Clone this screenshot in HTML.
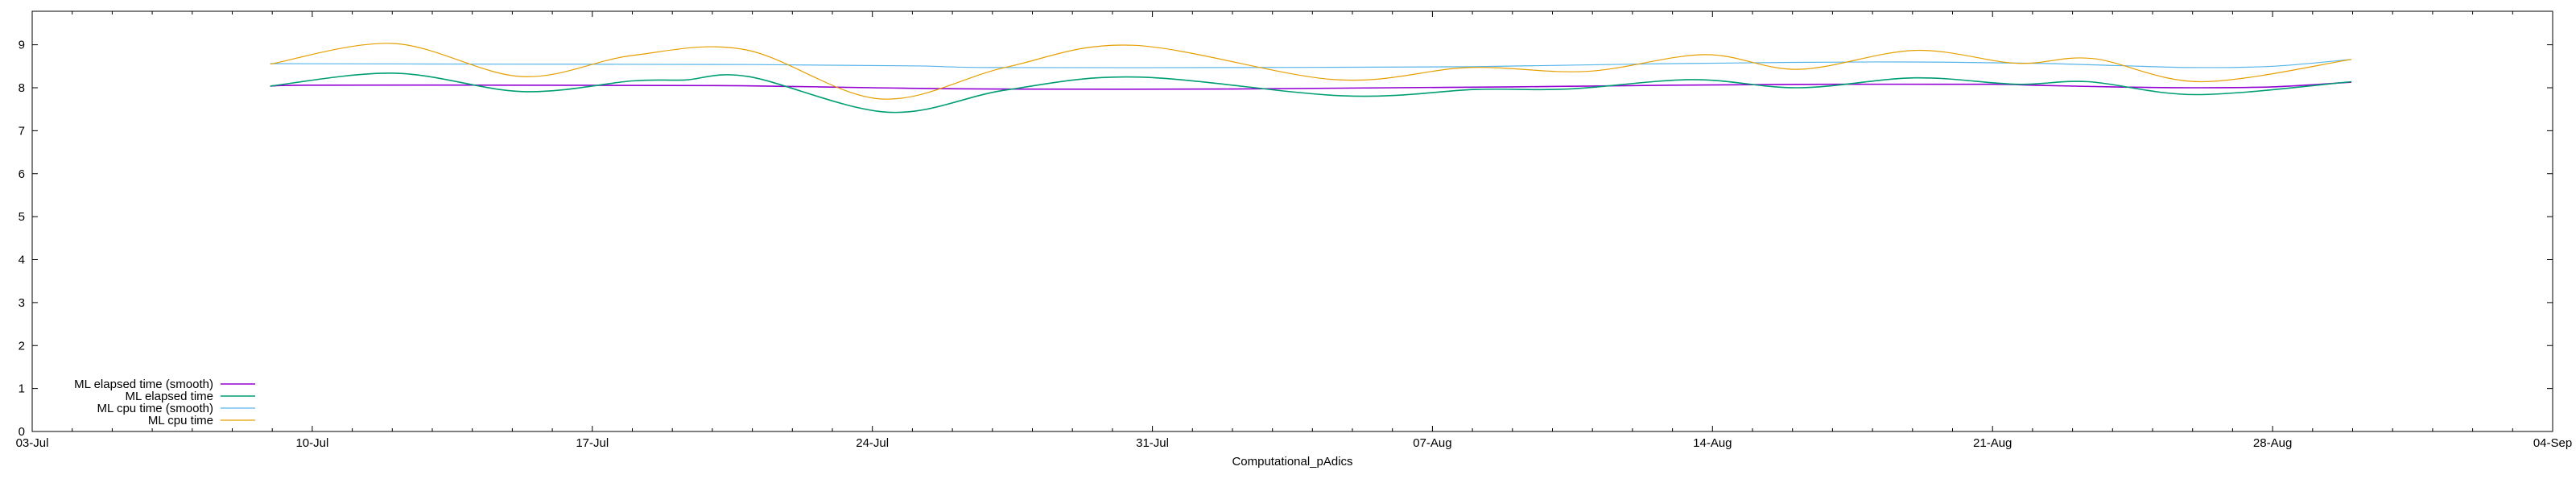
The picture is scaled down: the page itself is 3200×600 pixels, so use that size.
<!DOCTYPE html>
<html><head><meta charset="utf-8"><style>
html,body{margin:0;padding:0;background:#fff;}
svg{display:block;font-family:"Liberation Sans",sans-serif;}
</style></head><body>
<svg id="chart" width="3200" height="600" xmlns="http://www.w3.org/2000/svg">
<g id="axes"></g>
<g id="series"></g>
<g id="legend"></g>
</svg>
<script>
const xTickLabels = ["03-Jul","10-Jul","17-Jul","24-Jul","31-Jul","07-Aug","14-Aug","21-Aug","28-Aug","04-Sep"];
const yTickLabels = ["0","1","2","3","4","5","6","7","8","9"];
const seriesNames = ["ML elapsed time (smooth)","ML elapsed time","ML cpu time (smooth)","ML cpu time"];
// day offsets from 03-Jul and values
const elapsedSmoothDays = [5.95,7,12,17,19,21,24,30,34,37,39,41,45,49,50,52,54,56,57.97];
const elapsedSmoothVals = [8.04,8.06,8.06,8.05,8.03,8.0,7.97,7.97,8.0,8.02,8.04,8.06,8.08,8.08,8.06,8.02,8.0,8.02,8.13];
const elapsedDays = [5.95,9.07,12.26,15,16.3,17.9,21.4,24.35,27.6,32.8,36.1,38.4,41.5,44.15,47.06,49.6,51.4,54.1,57.97];
const elapsedVals = [8.04,8.34,7.91,8.16,8.18,8.26,7.43,7.95,8.25,7.81,7.96,7.97,8.19,8.0,8.23,8.08,8.14,7.84,8.14];
const cpuSmoothDays = [5.95,12,18,22,24,30,36,40,44,47,50,52,54,56,57.97];
const cpuSmoothVals = [8.56,8.55,8.54,8.51,8.47,8.47,8.49,8.55,8.59,8.6,8.57,8.52,8.47,8.5,8.66];
const cpuDays = [5.95,9.03,12.23,14.99,17.8,21.2,24.35,27.5,32.55,35.9,38.85,41.8,44.15,47.06,49.6,51.5,54.2,57.97];
const cpuVals = [8.55,9.03,8.26,8.75,8.89,7.74,8.48,8.99,8.19,8.47,8.38,8.77,8.43,8.87,8.57,8.68,8.14,8.66];

const L=40,R=3171,T=14,B=536,XMAX=63,YMAX=9.78;
const sx=d=>L+(R-L)*d/XMAX;
const sy=v=>B-(B-T)*v/YMAX;
const NS="http://www.w3.org/2000/svg";
function mk(tag,parent){const e=document.createElementNS(NS,tag);parent.appendChild(e);return e;}
const axes=document.getElementById('axes');
const frame=mk('rect',axes);


frame.setAttribute('x',L);frame.setAttribute('y',T);frame.setAttribute('width',R-L);frame.setAttribute('height',B-T);
frame.setAttribute('fill','none');frame.setAttribute('stroke','#000');frame.setAttribute('stroke-width','1');
let tp="";
for(let d=0;d<=XMAX;d++){const x=sx(d).toFixed(1);const len=(d%7===0)?7:4;tp+=`M${x} ${B}v-${len}M${x} ${T}v${len}`;}
yTickLabels.forEach((t,i)=>{const y=sy(i).toFixed(1);tp+=`M${L} ${y}h7M${R} ${y}h-7`;});
const ticks=mk('path',axes);


ticks.setAttribute('d',tp);ticks.setAttribute('stroke','#000');ticks.setAttribute('fill','none');
yTickLabels.forEach((t,i)=>{const tx=mk('text',axes);


tx.setAttribute('x',31);tx.setAttribute('y',sy(i)+5);tx.setAttribute('text-anchor','end');tx.setAttribute('font-size','15');tx.textContent=t;});
xTickLabels.forEach((t,i)=>{const tx=mk('text',axes);


tx.setAttribute('x',sx(i*7));tx.setAttribute('y',555);tx.setAttribute('text-anchor','middle');tx.setAttribute('font-size','15');tx.textContent=t;});
const xt=mk('text',axes);


xt.setAttribute('x',(L+R)/2);xt.setAttribute('y',578);xt.setAttribute('text-anchor','middle');xt.setAttribute('font-size','15');xt.textContent="Computational_pAdics";

function smoothPath(ds,vs){
  const p=ds.map((d,i)=>[sx(d),sy(vs[i])]);
  let s=`M${p[0][0].toFixed(1)} ${p[0][1].toFixed(1)}`;
  for(let i=0;i<p.length-1;i++){
    const p0=p[Math.max(0,i-1)],p1=p[i],p2=p[i+1],p3=p[Math.min(p.length-1,i+2)];
    const c1=[p1[0]+(p2[0]-p0[0])/6,p1[1]+(p2[1]-p0[1])/6];
    const c2=[p2[0]-(p3[0]-p1[0])/6,p2[1]-(p3[1]-p1[1])/6];
    s+=`C${c1[0].toFixed(1)} ${c1[1].toFixed(1)} ${c2[0].toFixed(1)} ${c2[1].toFixed(1)} ${p2[0].toFixed(1)} ${p2[1].toFixed(1)}`;
  }
  return s;
}
const colors=["#9400d3","#009e73","#56b4e9","#e69f00"];
const widths=[1.6,1.6,1.2,1.2];
const data=[[elapsedSmoothDays,elapsedSmoothVals],[elapsedDays,elapsedVals],[cpuSmoothDays,cpuSmoothVals],[cpuDays,cpuVals]];
const sNames=["line-elapsed-smooth","line-elapsed","line-cpu-smooth","line-cpu"];
const sg=document.getElementById('series');
data.forEach((d,i)=>{const p=mk('path',sg);


p.setAttribute('d',smoothPath(d[0],d[1]));p.setAttribute('fill','none');p.setAttribute('stroke',colors[i]);p.setAttribute('stroke-width',widths[i]);});
const lg=document.getElementById('legend');
seriesNames.forEach((n,i)=>{const y=477+i*15;
const tx=mk('text',lg);


tx.setAttribute('x',265);tx.setAttribute('y',y+5);tx.setAttribute('text-anchor','end');tx.setAttribute('font-size','15');tx.textContent=n;
const ln=mk('line',lg);


ln.setAttribute('x1',274);ln.setAttribute('x2',317);ln.setAttribute('y1',y);ln.setAttribute('y2',y);ln.setAttribute('stroke',colors[i]);ln.setAttribute('stroke-width',widths[i]);});
</script>
</body></html>
